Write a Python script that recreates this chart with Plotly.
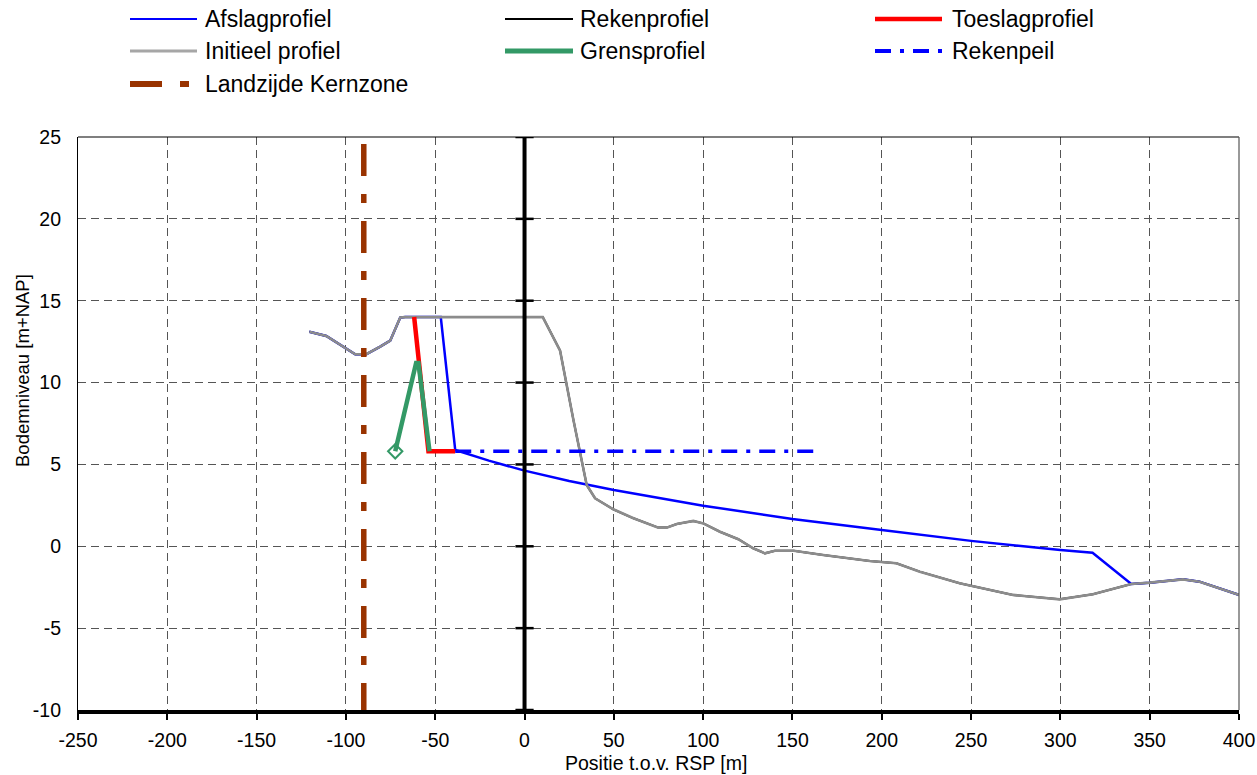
import plotly.graph_objects as go

# ---------------- data ----------------
initial_x = [-120.5, -111, -94.8, -88.6, -80.8, -75.2, -69.6, -66.8, 10.2, 19.9, 27.4, 34.8,
             39.5, 49.7, 61, 74.9, 79.6, 85.2, 94.5, 100.1, 109.4, 119.7, 128.0, 134.6, 140.2,
             150.7, 167.2, 193.3, 208.2, 221.3, 243.6, 273.5, 299.6, 318.2, 339.7, 350, 368.6,
             377.9, 403]
initial_y = [13.1, 12.85, 11.73, 11.73, 12.2, 12.56, 13.97, 14.0, 14.0, 11.95, 7.7, 3.74,
             2.93, 2.26, 1.71, 1.14, 1.14, 1.36, 1.55, 1.4, 0.89, 0.43, -0.12, -0.43, -0.27,
             -0.27, -0.53, -0.9, -1.04, -1.55, -2.26, -2.97, -3.24, -2.93, -2.3, -2.22, -2.02,
             -2.16, -3.08]

reken_x = initial_x
reken_y = initial_y

afslag_x = [-120.5, -111, -94.8, -88.6, -80.8, -75.2, -69.6, -66.8, -46.9, -38.8, -20, 0, 25,
            50, 100, 150, 200, 250, 300, 318, 339.7, 350, 368.6, 377.9, 403]
afslag_y = [13.1, 12.85, 11.73, 11.73, 12.2, 12.56, 13.97, 14.0, 14.0, 5.88, 5.23, 4.62, 3.99,
            3.44, 2.48, 1.67, 1.0, 0.33, -0.23, -0.4, -2.3, -2.22, -2.02, -2.16, -3.08]

toeslag_x = [-61.8, -53.8, -38.8]
toeslag_y = [14.0, 5.8, 5.8]

grens_x = [-72.4, -60.7, -59.4, -53.2]
grens_y = [5.8, 11.2, 11.2, 5.8]

rekenpeil_x = [-38.8, 162]
rekenpeil_y = [5.8, 5.8]

kernzone_x = [-90, -90]
kernzone_y = [24.57, -10]

x_ticks = list(range(-250, 401, 50))
y_ticks = list(range(-10, 26, 5))

legend_names = ["Afslagprofiel", "Rekenprofiel", "Toeslagprofiel",
                "Initieel profiel", "Grensprofiel", "Rekenpeil",
                "Landzijde Kernzone"]

# ---------------- styles ----------------
FONT = "Liberation Sans, Arial, sans-serif"
BLUE = "#0000FF"
GRAY = "#8C8C8C"
RED = "#FF0000"
GREEN = "#339966"
BROWN = "#993300"

W, H = 1257, 775
L, R, T, B = 78, 18, 137, 65
PW, PH = W - L - R, H - T - B


def px2paper(px, py):
    return (px - L) / PW, (H - B - py) / PH


fig = go.Figure()

fig.add_trace(go.Scatter(x=reken_x, y=reken_y, mode="lines", name="Rekenprofiel",
                         line=dict(color="black", width=2)))
fig.add_trace(go.Scatter(x=afslag_x, y=afslag_y, mode="lines", name="Afslagprofiel",
                         line=dict(color=BLUE, width=2.5)))
fig.add_trace(go.Scatter(x=initial_x, y=initial_y, mode="lines", name="Initieel profiel",
                         line=dict(color=GRAY, width=2.6)))
fig.add_trace(go.Scatter(x=toeslag_x, y=toeslag_y, mode="lines", name="Toeslagprofiel",
                         line=dict(color=RED, width=4.5)))
fig.add_trace(go.Scatter(x=grens_x, y=grens_y, mode="lines", name="Grensprofiel",
                         line=dict(color=GREEN, width=4.5)))
fig.add_trace(go.Scatter(x=grens_x[:1], y=grens_y[:1], mode="markers", showlegend=False,
                         marker=dict(symbol="diamond-open", size=11, color=GREEN,
                                     line=dict(width=2, color=GREEN))))
fig.add_trace(go.Scatter(x=rekenpeil_x, y=rekenpeil_y, mode="lines", name="Rekenpeil",
                         line=dict(color=BLUE, width=3.5, dash="16px,9px,4px,9px")))
fig.add_trace(go.Scatter(x=kernzone_x, y=kernzone_y, mode="lines", name="Landzijde Kernzone",
                         line=dict(color=BROWN, width=5.5, dash="32px,18px,9px,18px")))

# zero-axis tick notches
fig.add_trace(go.Scatter(x=[0] * len(y_ticks), y=y_ticks, mode="markers", showlegend=False,
                         hoverinfo="skip",
                         marker=dict(symbol="line-ew", size=13,
                                     line=dict(width=2.5, color="black"))))

shapes = []
shapes.append(dict(type="line", xref="x", yref="paper", x0=0, x1=0, y0=0, y1=1,
                   line=dict(color="black", width=4)))
shapes.append(dict(type="line", xref="paper", yref="paper", x0=0, x1=1, y0=1, y1=1,
                   line=dict(color="black", width=1.2)))
shapes.append(dict(type="line", xref="paper", yref="paper", x0=1, x1=1, y0=0, y1=1,
                   line=dict(color="#555555", width=1.2)))

annotations = []
legend_style = {
    "Afslagprofiel": dict(color=BLUE, width=2, dash="solid"),
    "Rekenprofiel": dict(color="black", width=2, dash="solid"),
    "Toeslagprofiel": dict(color=RED, width=4.5, dash="solid"),
    "Initieel profiel": dict(color="#A6A6A6", width=3, dash="solid"),
    "Grensprofiel": dict(color=GREEN, width=5, dash="solid"),
    "Rekenpeil": dict(color=BLUE, width=4, dash="16px,9px,4px,9px"),
    "Landzijde Kernzone": dict(color=BROWN, width=6, dash="32px,18px,9px,18px"),
}
col_sym = [(130, 197), (505, 573), (875, 942)]
col_txt = [203, 578, 950]
row_y = [19, 51, 84]
for i, name in enumerate(legend_names):
    r, c = divmod(i, 3)
    x0, y0 = px2paper(col_sym[c][0], row_y[r])
    x1, _ = px2paper(col_sym[c][1], row_y[r])
    shapes.append(dict(type="line", xref="paper", yref="paper", x0=x0, x1=x1, y0=y0, y1=y0,
                       line=legend_style[name]))
    tx, ty = px2paper(col_txt[c], row_y[r])
    annotations.append(dict(xref="paper", yref="paper", x=tx, y=ty, text=name,
                            showarrow=False, xanchor="left", yanchor="middle",
                            font=dict(family=FONT, size=23, color="black")))

ax, ay = px2paper(656, 763)
annotations.append(dict(xref="paper", yref="paper", x=ax, y=ay, text="Positie t.o.v. RSP [m]",
                        showarrow=False, xanchor="center", yanchor="middle",
                        font=dict(family=FONT, size=19.5, color="black")))
bx, by = px2paper(22, 371)
annotations.append(dict(xref="paper", yref="paper", x=bx, y=by, text="Bodemniveau [m+NAP]",
                        showarrow=False, xanchor="center", yanchor="middle", textangle=-90,
                        font=dict(family=FONT, size=18.5, color="black")))

fig.update_layout(
    width=W, height=H,
    autosize=False,
    margin=dict(l=L, r=R, t=T, b=B, autoexpand=False),
    paper_bgcolor="white", plot_bgcolor="white",
    showlegend=False,
    font=dict(family=FONT, size=19, color="black"),
    shapes=shapes,
    annotations=annotations,
    xaxis=dict(range=[-250, 400], tickvals=x_ticks, ticktext=[str(v) for v in x_ticks],
               showgrid=True, gridcolor="#555555", griddash="8px,5px", gridwidth=1,
               zeroline=False, showline=True, linecolor="black", linewidth=4,
               ticks="outside", ticklen=6, tickwidth=2, tickcolor="black",
               ticklabelstandoff=4, tickfont=dict(family=FONT, size=19.5), automargin=False),
    yaxis=dict(range=[-10, 25], tickvals=y_ticks, ticktext=[str(v) for v in y_ticks],
               showgrid=True, gridcolor="#555555", griddash="8px,5px", gridwidth=1,
               zeroline=False, showline=True, linecolor="black", linewidth=1.2,
               ticks="", ticklabelstandoff=12, tickfont=dict(family=FONT, size=19.5),
               automargin=False),
)

fig.write_html("out.html",
               config={"displayModeBar": False, "responsive": False},
               post_script=("document.body.style.margin='0';document.body.style.padding='0';"
                            "document.documentElement.style.overflow='hidden';"
                            "document.body.style.overflow='hidden';"))
